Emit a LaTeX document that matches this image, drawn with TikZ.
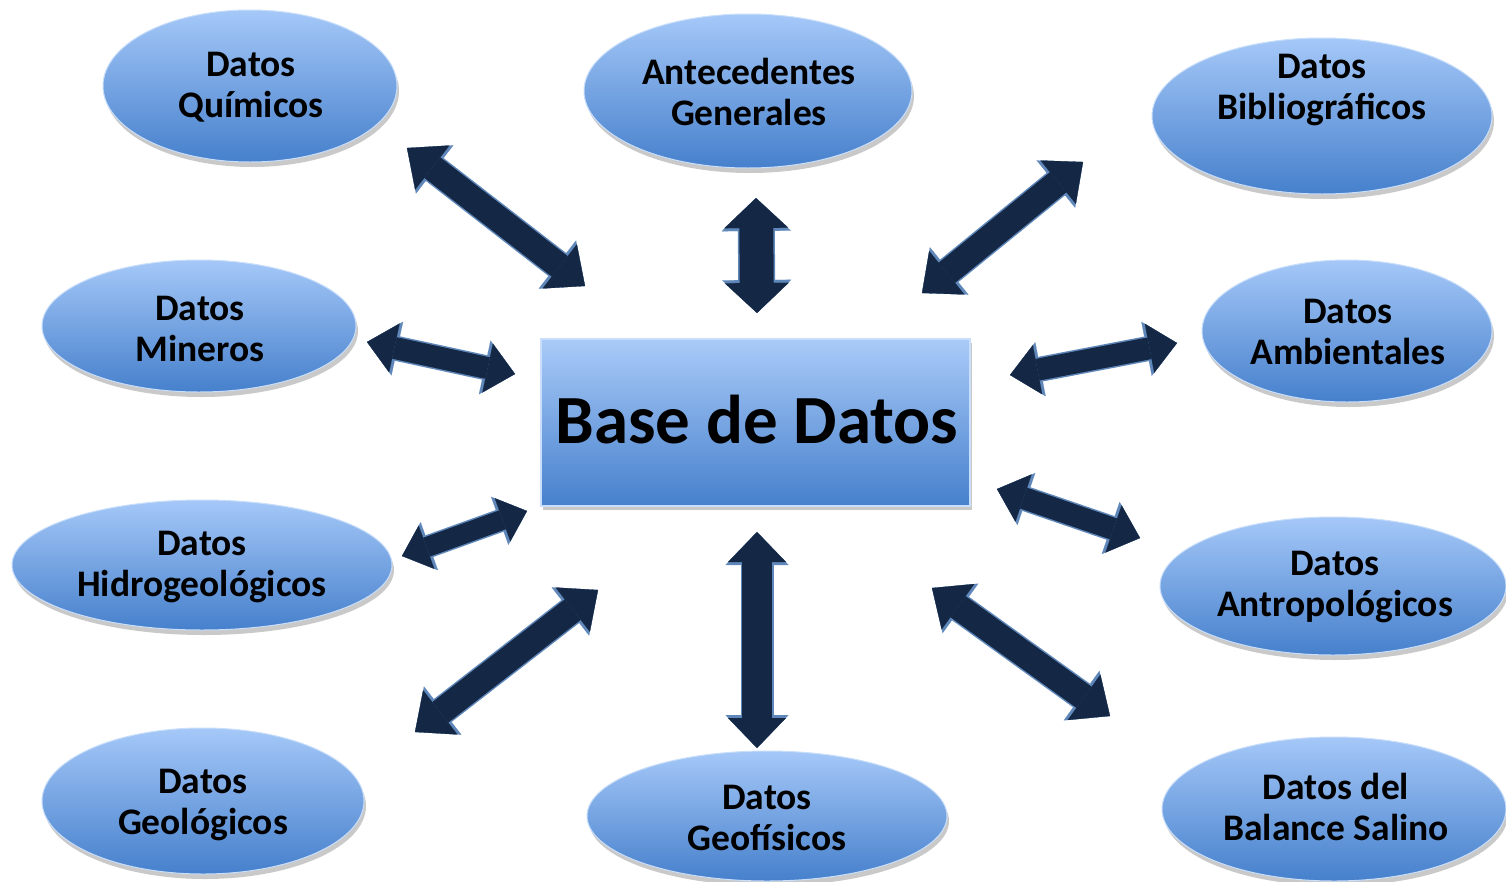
\documentclass[tikz,border=0pt]{standalone}
\usepackage{fontspec}
\setmainfont{Carlito}
\usetikzlibrary{arrows.meta,shapes.geometric,shadows,calc}
\definecolor{etop}{RGB}{165,200,248}
\definecolor{ebot}{RGB}{70,128,204}
\definecolor{erim}{RGB}{200,222,250}
\definecolor{adark}{RGB}{20,40,70}
\definecolor{arim}{RGB}{95,135,185}
\tikzset{
  ell/.style={ellipse, inner sep=0pt, top color=etop, bottom color=ebot, draw=erim, line width=1pt,
    drop shadow={shadow xshift=2pt, shadow yshift=-5pt, opacity=0.3, fill=black!70}},
  lbl/.style={font=\bfseries\fontsize{37.5}{41}\selectfont, align=center, text=black, inner sep=0pt},
  bigbox/.style={rectangle, inner sep=0pt, top color=etop!95!white, bottom color=ebot, draw=erim, line width=2pt,
    drop shadow={shadow xshift=2pt, shadow yshift=-4pt, opacity=0.3, fill=black!70}},
  biglbl/.style={font=\bfseries\fontsize{69}{72}\selectfont, text=black, inner sep=0pt}
}
\newcommand\dbla[5]{%
  \pgfmathsetmacro\oW{#3+3}\pgfmathsetmacro\oH{#4+5}\pgfmathsetmacro\oL{#5+3}%
  \draw[arim, line width=\oW pt, arrows={Triangle[width=\oH pt,length=\oL pt,line width=0.1pt]-Triangle[width=\oH pt,length=\oL pt,line width=0.1pt]}] (#1) -- (#2);
  \draw[adark, line width=#3pt, arrows={Triangle[width=#4pt,length=#5pt,line width=0.1pt]-Triangle[width=#4pt,length=#5pt,line width=0.1pt]}] (#1) -- (#2);}
\begin{document}
\begin{tikzpicture}[x=1pt,y=-1pt]
\useasboundingbox (0,0) rectangle (1506,881);
% ellipses
\node[ell, minimum width=294pt, minimum height=152pt] (e1) at (250,86) {};
\node[ell, minimum width=328pt, minimum height=154pt] (e2) at (748,91) {};
\node[ell, minimum width=340pt, minimum height=156pt] (e3) at (1322,116) {};
\node[ell, minimum width=314pt, minimum height=132pt] (e4) at (199,326) {};
\node[ell, minimum width=290pt, minimum height=142pt] (e5) at (1347,331) {};
\node[ell, minimum width=380pt, minimum height=130pt] (e6) at (202,565) {};
\node[ell, minimum width=346pt, minimum height=138pt] (e7) at (1333,586) {};
\node[ell, minimum width=322pt, minimum height=146pt] (e8) at (203,801) {};
\node[ell, minimum width=360pt, minimum height=130pt] (e9) at (767,816) {};
\node[ell, minimum width=344pt, minimum height=144pt] (e10) at (1334,809) {};
% labels
\node[lbl] (t1) at (251,87) {Datos\\Químicos};
\node[lbl] (t2) at (749,92) {Antecedentes\\Generales};
\node[lbl] (t3) at (1322,90) {Datos\\Bibliográficos};
\node[lbl] (t4) at (200,329) {Datos\\Mineros};
\node[lbl] (t5) at (1348,332) {Datos\\Ambientales};
\node[lbl] (t6) at (202,567) {Datos\\Hidrogeológicos};
\node[lbl] (t7) at (1335,587) {Datos\\Antropológicos};
\node[lbl] (t8) at (203,805) {Datos\\Geológicos};
\node[lbl] (t9) at (767,818) {Datos\\Geofísicos};
\node[lbl] (t10) at (1336,807) {Datos del\\Balance Salino};
% central box
\node[bigbox, minimum width=429pt, minimum height=167pt] (bd) at (755.5,422.5) {};
\node[biglbl] (bdt) at (757,420) {Base de Datos};
% arrow end points
\coordinate (a1s) at (407,148);  \coordinate (a1e) at (585,286);
\coordinate (a2s) at (756,198);  \coordinate (a2e) at (757,313);
\coordinate (a3s) at (1083,162); \coordinate (a3e) at (922,293);
\coordinate (a4s) at (367,342);  \coordinate (a4e) at (515,374);
\coordinate (a5s) at (1010,375); \coordinate (a5e) at (1177,343);
\coordinate (a6s) at (402,556);  \coordinate (a6e) at (527,511);
\coordinate (a7s) at (997,489);  \coordinate (a7e) at (1140,538);
\coordinate (a8s) at (598,590);  \coordinate (a8e) at (415,732);
\coordinate (a9s) at (757,532);  \coordinate (a9e) at (757,748);
\coordinate (a10s) at (932,588); \coordinate (a10e) at (1110,716);
% arrows
\dbla{a1s}{a1e}{26}{56}{32}
\dbla{a2s}{a2e}{34}{64}{30}
\dbla{a3s}{a3e}{26}{56}{32}
\dbla{a4s}{a4e}{22}{50}{28}
\dbla{a5s}{a5e}{22}{50}{28}
\dbla{a6s}{a6e}{20}{46}{26}
\dbla{a7s}{a7e}{22}{50}{28}
\dbla{a8s}{a8e}{26}{56}{32}
\dbla{a9s}{a9e}{30}{58}{30}
\dbla{a10s}{a10e}{26}{56}{32}
\end{tikzpicture}
\end{document}
